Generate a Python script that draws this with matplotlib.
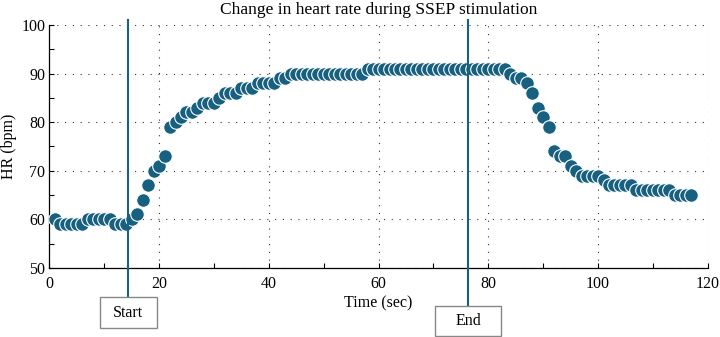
import numpy as np
import matplotlib
matplotlib.use("Agg")
import matplotlib.pyplot as plt
from matplotlib.patches import Rectangle
from matplotlib.ticker import MultipleLocator

plt.rcParams['font.family'] = ['Liberation Serif', 'DejaVu Serif']

# heart rate readings, one per second
time_sec = list(range(1, 118))
hr_bpm = [60, 59, 59, 59, 59, 59, 60, 60, 60, 60,
          60, 59, 59, 59, 60, 61, 64, 67, 70, 71,
          73, 79, 80, 81, 82, 82, 83, 84, 84, 84,
          85, 86, 86, 86, 87, 87, 87, 88, 88, 88,
          88, 89, 89, 90, 90, 90, 90, 90, 90, 90,
          90, 90, 90, 90, 90, 90, 90, 91, 91, 91,
          91, 91, 91, 91, 91, 91, 91, 91, 91, 91,
          91, 91, 91, 91, 91, 91, 91, 91, 91, 91,
          91, 91, 91, 90, 89, 89, 88, 86, 83, 81,
          79, 74, 73, 73, 71, 70, 69, 69, 69, 69,
          68, 67, 67, 67, 67, 67, 66, 66, 66, 66,
          66, 66, 66, 65, 65, 65, 65]

# stimulation markers
events = ["Start", "End"]
event_times = [14.4, 76.3]

col = '#17607f'
fs = 11.5

fig = plt.figure(figsize=(7.2, 3.37), dpi=100)
ax = fig.add_axes([0.0685, 0.205, 0.9145, 0.721])

ax.plot(time_sec, hr_bpm, 'o', color=col, markersize=9.8,
        markeredgecolor='white', markeredgewidth=0.8, zorder=3)

ax.set_xlim(0, 120)
ax.set_ylim(50, 100)
ax.xaxis.set_major_locator(MultipleLocator(20))
ax.xaxis.set_minor_locator(MultipleLocator(10))
ax.yaxis.set_major_locator(MultipleLocator(10))
ax.yaxis.set_minor_locator(MultipleLocator(5))
ax.tick_params(which='both', direction='in', length=3.5, width=0.8,
               labelsize=fs, colors='black')
ax.tick_params(axis='x', pad=6)
ax.tick_params(axis='y', pad=3)
ax.grid(True, which='major', color='#333333', linestyle=(0, (1, 6)), linewidth=0.8)
for s in ['top', 'right']:
    ax.spines[s].set_visible(False)
for s in ['left', 'bottom']:
    ax.spines[s].set_linewidth(0.9)

ax.set_title('Change in heart rate during SSEP stimulation', fontsize=12.5,
             y=1.045, pad=0)
ax.set_xlabel('Time (sec)', fontsize=fs, labelpad=2)
ax.set_ylabel('HR (bpm)', fontsize=fs, labelpad=3)

trans = ax.get_xaxis_transform()
line_bottoms = [-0.121, -0.155]
box_w = [10.3, 12.0]
box_h = 0.126
for name, t, yb, w in zip(events, event_times, line_bottoms, box_w):
    ax.plot([t, t], [yb, 1.02], color=col, linewidth=1.5, transform=trans,
            clip_on=False, zorder=4)
    ax.add_patch(Rectangle((t - w / 2, yb - box_h), w, box_h, transform=trans,
                           facecolor='white', edgecolor='#888888', linewidth=1.0,
                           clip_on=False, zorder=5))
    ax.text(t, yb - box_h / 2, name, transform=trans, ha='center', va='center',
            fontsize=fs, zorder=6)

fig.savefig('out.png', dpi=100)
